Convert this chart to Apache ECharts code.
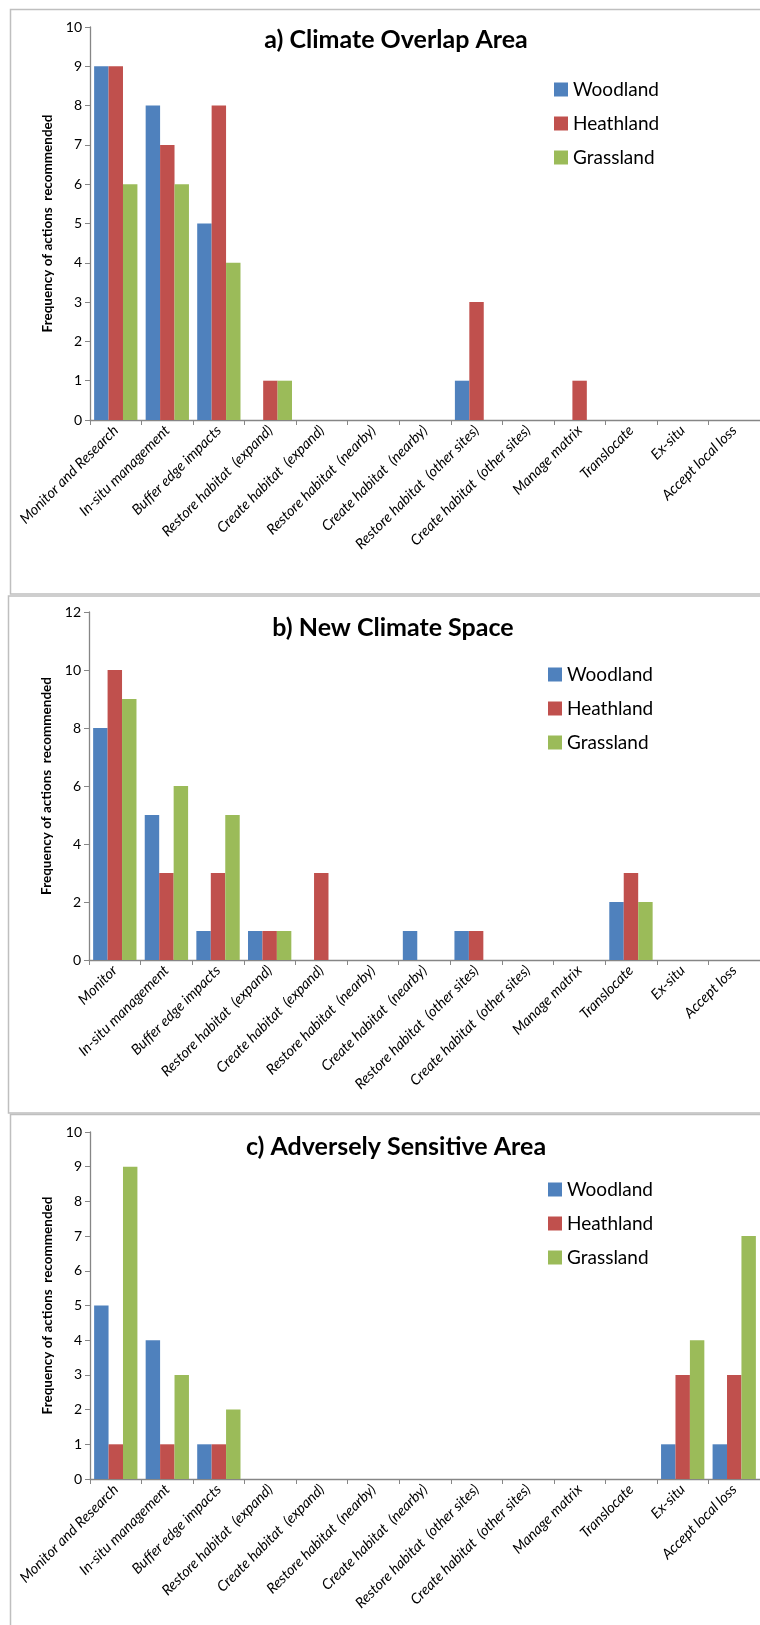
<!DOCTYPE html>
<html>
<head>
<meta charset="utf-8">
<script src="https://cdn.jsdelivr.net/npm/echarts@6/dist/echarts.min.js"></script>
<style>
html,body{margin:0;padding:0;background:#fff;}
#chart{width:760px;height:1625px;}
</style>
</head>
<body>
<div id="chart"></div>
<script>
// ---------- data ----------
var categoriesAC = ['Monitor and Research','In-situ management','Buffer edge impacts','Restore habitat  (expand)','Create habitat  (expand)','Restore habitat  (nearby)','Create habitat  (nearby)','Restore habitat  (other sites)','Create habitat  (other sites)','Manage matrix','Translocate','Ex-situ','Accept local loss'];
var categoriesB = ['Monitor','In-situ management','Buffer edge impacts','Restore habitat  (expand)','Create habitat  (expand)','Restore habitat  (nearby)','Create habitat  (nearby)','Restore habitat  (other sites)','Create habitat  (other sites)','Manage matrix','Translocate','Ex-situ','Accept loss'];
var seriesNames = ['Woodland','Heathland','Grassland'];

var woodlandA  = [9,8,5,0,0,0,0,1,0,0,0,0,0];
var heathlandA = [9,7,8,1,0,0,0,3,0,1,0,0,0];
var grasslandA = [6,6,4,1,0,0,0,0,0,0,0,0,0];

var woodlandB  = [8,5,1,1,0,0,1,1,0,0,2,0,0];
var heathlandB = [10,3,3,1,3,0,0,1,0,0,3,0,0];
var grasslandB = [9,6,5,1,0,0,0,0,0,0,2,0,0];

var woodlandC  = [5,4,1,0,0,0,0,0,0,0,0,1,1];
var heathlandC = [1,1,1,0,0,0,0,0,0,0,0,3,3];
var grasslandC = [9,3,2,0,0,0,0,0,0,0,0,4,7];

var titles = ['a) Climate Overlap Area','b) New Climate Space','c) Adversely Sensitive Area'];
var yName = 'Frequency of actions  recommended';
var yMax = [10,12,10];
var yInterval = [1,2,1];

// ---------- styling ----------
var colors = ['#4F81BD','#C0504D','#9BBB59'];
var FONT = 'Lato, "Open Sans", sans-serif';
var axisGray = '#868686';

var grids = [
  {left:90, top:27, width:670, height:393},
  {left:89, top:612, width:671, height:348},
  {left:90, top:1132, width:670, height:347}
];
var titlePos = [{x:391,y:22},{x:388,y:610},{x:391,y:1129}];
var legendPos = [{x:549,y:75},{x:543,y:660},{x:543,y:1175}];
var namePos = [34,34,34];

var dataSets = [
  [woodlandA,heathlandA,grasslandA],
  [woodlandB,heathlandB,grasslandB],
  [woodlandC,heathlandC,grasslandC]
];
var cats = [categoriesAC,categoriesB,categoriesAC];

var option = {
  animation:false,
  backgroundColor:'#fff',
  color:colors,
  textStyle:{fontFamily:FONT},
  title:[], legend:[], grid:[], xAxis:[], yAxis:[], series:[],
  graphic:[
    {type:'rect', shape:{x:10.5,y:9.5,width:770,height:584.5}, style:{fill:'none',stroke:'#bfbfbf',lineWidth:1.5}, z:-1},
    {type:'rect', shape:{x:8.5,y:596,width:770,height:517}, style:{fill:'none',stroke:'#bfbfbf',lineWidth:1.5}, z:-1},
    {type:'rect', shape:{x:10.5,y:1114.5,width:770,height:600}, style:{fill:'none',stroke:'#bfbfbf',lineWidth:1.5}, z:-1}
  ]
};

for (var i=0;i<3;i++){
  option.grid.push(grids[i]);
  option.title.push({
    text:titles[i], left:titlePos[i].x, top:titlePos[i].y, textAlign:'center',
    textStyle:{fontFamily:FONT, fontWeight:'bold', fontSize:25, color:'#000'}
  });
  option.legend.push({
    orient:'vertical', left:legendPos[i].x, top:legendPos[i].y,
    itemWidth:14, itemHeight:14, itemGap:15,
    data:seriesNames.slice(),
    icon:'rect',
    textStyle:{fontFamily:FONT, fontSize:19, color:'#000'}
  });
  option.xAxis.push({
    type:'category', gridIndex:i, data:cats[i],
    axisLine:{lineStyle:{color:axisGray,width:1.3}},
    axisTick:{show:true, alignWithLabel:false, length:5, lineStyle:{color:axisGray}},
    axisLabel:{rotate:45, interval:0, fontStyle:'italic', fontSize:14.5, color:'#000', fontFamily:FONT, margin:8}
  });
  option.yAxis.push({
    type:'value', gridIndex:i, min:0, max:yMax[i], interval:yInterval[i],
    name:yName, nameLocation:'middle', nameGap:namePos[i],
    nameTextStyle:{fontFamily:FONT, fontWeight:'bold', fontSize:13.5, color:'#000'},
    splitLine:{show:false},
    axisLine:{show:true, lineStyle:{color:axisGray,width:1.3}},
    axisTick:{show:true, length:5, lineStyle:{color:axisGray}},
    axisLabel:{fontSize:14, color:'#000', fontFamily:FONT, margin:8}
  });
  for (var s=0;s<3;s++){
    option.series.push({
      type:'bar', name:seriesNames[s], xAxisIndex:i, yAxisIndex:i,
      data:dataSets[i][s], barGap:'0%', barCategoryGap:'16%',
      itemStyle:{color:colors[s]}
    });
  }
}

var chart = echarts.init(document.getElementById('chart'), null, {renderer:'canvas'});
chart.setOption(option);
</script>
</body>
</html>
